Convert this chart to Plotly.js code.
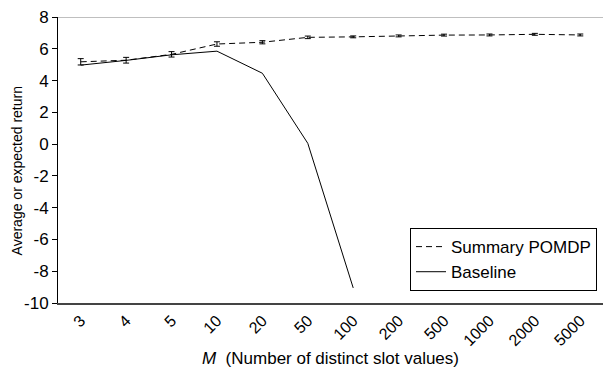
<!DOCTYPE html>
<html>
<head>
<meta charset="utf-8">
<script src="https://cdn.plot.ly/plotly-3.0.1.min.js"></script>
<style>html,body{margin:0;padding:0;background:#fff;}#chart{width:603px;height:370px;}</style>
</head>
<body>
<div id="chart"></div>
<script>
const categories = ["3","4","5","10","20","50","100","200","500","1000","2000","5000"];
const summaryValues = [5.18, 5.28, 5.65, 6.3, 6.41, 6.72, 6.75, 6.81, 6.86, 6.87, 6.91, 6.87];
const summaryErrors = [0.2, 0.18, 0.17, 0.14, 0.1, 0.08, 0.06, 0.06, 0.06, 0.06, 0.06, 0.06];
const baselineCategories = ["3","4","5","10","20","50","100"];
const baselineValues = [4.97, 5.27, 5.62, 5.85, 4.46, 0.05, -9.05];
const yTicks = [8, 6, 4, 2, 0, -2, -4, -6, -8, -10];
const yTitle = "Average or expected return";
const xTitle = "<i>M</i>  (Number of distinct slot values)";

const font = "'Liberation Sans', Arial, sans-serif";

const traces = [
  {
    x: categories, y: summaryValues, type: "scatter", mode: "lines",
    name: "Summary POMDP",
    line: {color: "#000", width: 1, dash: "6px,4px"},
    error_y: {type: "data", array: summaryErrors, visible: true, color: "#000", thickness: 1, width: 3}
  },
  {
    x: baselineCategories, y: baselineValues, type: "scatter", mode: "lines",
    name: "Baseline",
    line: {color: "#000", width: 1}
  }
];

const layout = {
  width: 603, height: 370,
  margin: {l: 58, r: 0, t: 17, b: 67},
  paper_bgcolor: "#fff", plot_bgcolor: "#fff",
  font: {family: font, size: 17, color: "#000"},
  showlegend: true,
  legend: {
    x: (410 - 58) / 545, xanchor: "left", xref: "paper",
    y: 0.262, yanchor: "top",
    bordercolor: "#000", borderwidth: 1, bgcolor: "#fff",
    font: {family: font, size: 17, color: "#000"},
    itemwidth: 30, tracegroupgap: 0
  },
  xaxis: {
    type: "category", categoryorder: "array", categoryarray: categories,
    range: [-0.5, 11.5],
    showline: true, linecolor: "#444", linewidth: 2,
    showgrid: false, zeroline: false, ticks: "",
    tickangle: -45, tickfont: {family: font, size: 16, color: "#000"},
    title: {text: xTitle, font: {family: font, size: 17, color: "#000"}, standoff: 4}
  },
  yaxis: {
    range: [-10, 8], tickvals: yTicks, ticktext: yTicks.map(String),
    showline: true, linecolor: "#000", linewidth: 1,
    showgrid: false, zeroline: false,
    ticks: "outside", ticklen: 5, tickcolor: "#000", tickwidth: 1,
    tickfont: {family: font, size: 17, color: "#000"}
  },
  annotations: [
    {text: yTitle, xref: "paper", yref: "paper", x: (17 - 58) / 545, y: 0.46,
     xanchor: "center", yanchor: "middle", textangle: -90, showarrow: false,
     font: {family: font, size: 14, color: "#000"}}
  ],
  shapes: [
    {type: "line", xref: "paper", yref: "y", x0: 0, x1: 1, y0: 8, y1: 8, line: {color: "#aaa", width: 1.5}}
  ]
};

Plotly.newPlot("chart", traces, layout, {displayModeBar: false, staticPlot: true});
</script>
</body>
</html>
